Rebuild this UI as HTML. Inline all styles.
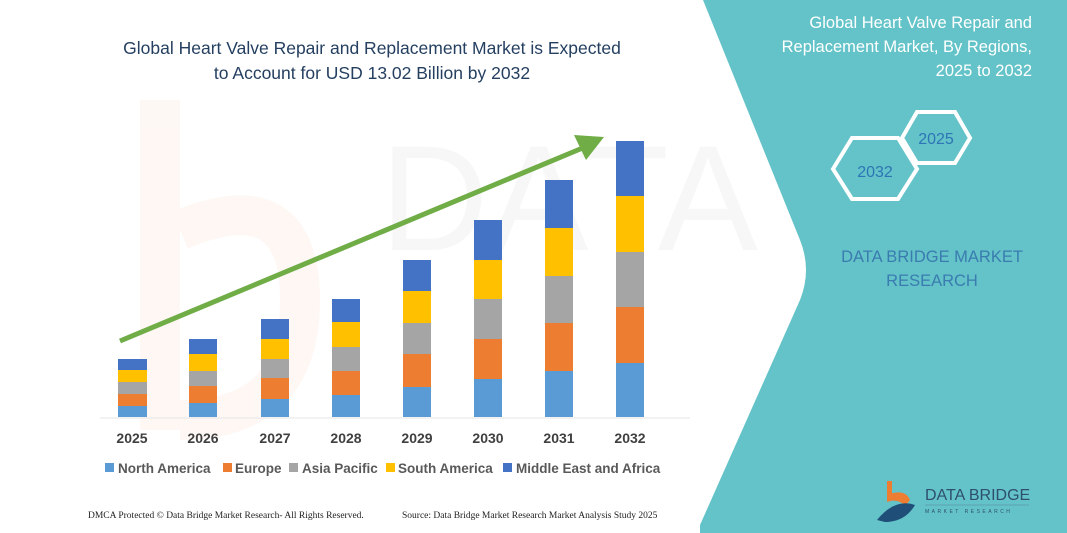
<!DOCTYPE html>
<html><head><meta charset="utf-8"><style>
html,body{margin:0;padding:0;background:#fff}
svg{display:block}
</style></head><body>
<svg width="1067" height="533" viewBox="0 0 1067 533" xmlns="http://www.w3.org/2000/svg" font-family="'Liberation Sans', sans-serif">
<rect width="1067" height="533" fill="#fff"/>
<!-- faint watermark -->
<g opacity="0.04">
<rect x="140" y="100" width="40" height="330" fill="#e8590c"/>
<path d="M180 230 Q300 180 300 300 Q300 420 180 420" fill="none" stroke="#e8590c" stroke-width="40"/>
<text x="380" y="250" font-size="150" fill="#555">DATA BRIDGE</text>
</g>
<!-- teal panel -->
<path d="M703 0 L1067 0 L1067 533 L700 533 L700 525 L800 300 Q812 270 800 240 Z" fill="#63c3c8"/>
<!-- title -->
<g fill="#243f60" font-size="17.5" text-anchor="middle">
<text x="372" y="54">Global Heart Valve Repair and Replacement Market is Expected</text>
<text x="372" y="79">to Account for USD 13.02 Billion by 2032</text>
</g>
<!-- bars -->
<g>
<g transform="translate(118,0)">
<rect x="0" y="406" width="29" height="11" fill="#5b9bd5"/><rect x="0" y="394" width="29" height="12" fill="#ed7d31"/><rect x="0" y="382" width="29" height="12" fill="#a5a5a5"/><rect x="0" y="370" width="29" height="12" fill="#ffc000"/><rect x="0" y="359" width="29" height="11" fill="#4472c4"/></g>
<g transform="translate(189,0)">
<rect x="0" y="403" width="28" height="14" fill="#5b9bd5"/><rect x="0" y="386" width="28" height="17" fill="#ed7d31"/><rect x="0" y="371" width="28" height="15" fill="#a5a5a5"/><rect x="0" y="354" width="28" height="17" fill="#ffc000"/><rect x="0" y="339" width="28" height="15" fill="#4472c4"/></g>
<g transform="translate(261,0)">
<rect x="0" y="399" width="28" height="18" fill="#5b9bd5"/><rect x="0" y="378" width="28" height="21" fill="#ed7d31"/><rect x="0" y="359" width="28" height="19" fill="#a5a5a5"/><rect x="0" y="339" width="28" height="20" fill="#ffc000"/><rect x="0" y="319" width="28" height="20" fill="#4472c4"/></g>
<g transform="translate(332,0)">
<rect x="0" y="395" width="28" height="22" fill="#5b9bd5"/><rect x="0" y="371" width="28" height="24" fill="#ed7d31"/><rect x="0" y="347" width="28" height="24" fill="#a5a5a5"/><rect x="0" y="322" width="28" height="25" fill="#ffc000"/><rect x="0" y="299" width="28" height="23" fill="#4472c4"/></g>
<g transform="translate(403,0)">
<rect x="0" y="387" width="28" height="30" fill="#5b9bd5"/><rect x="0" y="354" width="28" height="33" fill="#ed7d31"/><rect x="0" y="323" width="28" height="31" fill="#a5a5a5"/><rect x="0" y="291" width="28" height="32" fill="#ffc000"/><rect x="0" y="260" width="28" height="31" fill="#4472c4"/></g>
<g transform="translate(474,0)">
<rect x="0" y="379" width="28" height="38" fill="#5b9bd5"/><rect x="0" y="339" width="28" height="40" fill="#ed7d31"/><rect x="0" y="299" width="28" height="40" fill="#a5a5a5"/><rect x="0" y="260" width="28" height="39" fill="#ffc000"/><rect x="0" y="220" width="28" height="40" fill="#4472c4"/></g>
<g transform="translate(545,0)">
<rect x="0" y="371" width="28" height="46" fill="#5b9bd5"/><rect x="0" y="323" width="28" height="48" fill="#ed7d31"/><rect x="0" y="276" width="28" height="47" fill="#a5a5a5"/><rect x="0" y="228" width="28" height="48" fill="#ffc000"/><rect x="0" y="180" width="28" height="48" fill="#4472c4"/></g>
<g transform="translate(616,0)">
<rect x="0" y="363" width="28" height="54" fill="#5b9bd5"/><rect x="0" y="307" width="28" height="56" fill="#ed7d31"/><rect x="0" y="252" width="28" height="55" fill="#a5a5a5"/><rect x="0" y="196" width="28" height="56" fill="#ffc000"/><rect x="0" y="141" width="28" height="55" fill="#4472c4"/></g>
</g>
<line x1="100" y1="418" x2="690" y2="418" stroke="#e6e6e6" stroke-width="1"/>
<!-- arrow -->
<line x1="120" y1="341" x2="585" y2="147" stroke="#70ad47" stroke-width="5"/>
<polygon points="604,137 574,135 586,160" fill="#70ad47"/>
<!-- years -->
<g font-size="14" font-weight="bold" fill="#404040" text-anchor="middle">
<text x="132" y="443">2025</text><text x="203" y="443">2026</text><text x="275" y="443">2027</text><text x="346" y="443">2028</text><text x="417" y="443">2029</text><text x="488" y="443">2030</text><text x="559" y="443">2031</text><text x="630" y="443">2032</text>
</g>
<!-- legend -->
<g font-size="13.5" font-weight="bold" fill="#595959">
<rect x="105" y="463" width="9" height="9" fill="#5b9bd5"/><text x="118" y="473">North America</text>
<rect x="223" y="463" width="9" height="9" fill="#ed7d31"/><text x="235" y="473">Europe</text>
<rect x="289" y="463" width="9" height="9" fill="#a5a5a5"/><text x="302" y="473">Asia Pacific</text>
<rect x="386" y="463" width="9" height="9" fill="#ffc000"/><text x="398" y="473">South America</text>
<rect x="503" y="463" width="9" height="9" fill="#4472c4"/><text x="516" y="473">Middle East and Africa</text>
</g>
<!-- footer -->
<g font-family="'Liberation Serif', serif" font-size="9.5" fill="#222">
<text x="88" y="518">DMCA Protected © Data Bridge Market Research-  All Rights Reserved.</text>
<text x="402" y="518">Source: Data Bridge Market Research  Market Analysis Study 2025</text>
</g>
<!-- right panel text -->
<g fill="#fff" font-size="16.5" text-anchor="end">
<text x="1032" y="28">Global Heart Valve Repair and</text>
<text x="1032" y="52">Replacement Market, By Regions,</text>
<text x="1032" y="76">2025 to 2032</text>
</g>
<polygon points="902,138 917,112 955,112 970,138 955,163 917,163" fill="none" stroke="#fff" stroke-width="4"/>
<polygon points="833,169 852,138 898,138 917,169 898,199 852,199" fill="none" stroke="#fff" stroke-width="4"/>
<text x="936" y="144" font-size="16" fill="#2e75b6" text-anchor="middle">2025</text>
<text x="875" y="177" font-size="16" fill="#2e75b6" text-anchor="middle">2032</text>
<g fill="#3a7cb0" font-size="16.5" text-anchor="middle">
<text x="932" y="262">DATA BRIDGE MARKET</text>
<text x="932" y="286">RESEARCH</text>
</g>
<!-- logo -->
<rect x="887" y="481" width="5" height="14" fill="#ed7d31"/>
<path d="M887 495 Q905 488 910 500 L905 506 Q898 498 887 502 Z" fill="#ed7d31"/>
<path d="M877 520 Q895 498 915 505 Q905 522 885 522 Z" fill="#1f4e79"/>
<text x="925" y="500" font-size="16" fill="#2f4f6f">DATA BRIDGE</text>
<line x1="925" y1="505" x2="1029" y2="505" stroke="#5a7f9a" stroke-width="0.6"/>
<text x="925" y="513" font-size="5" fill="#2f4f6f" letter-spacing="2.5">MARKET  RESEARCH</text>
</svg>
</body></html>
